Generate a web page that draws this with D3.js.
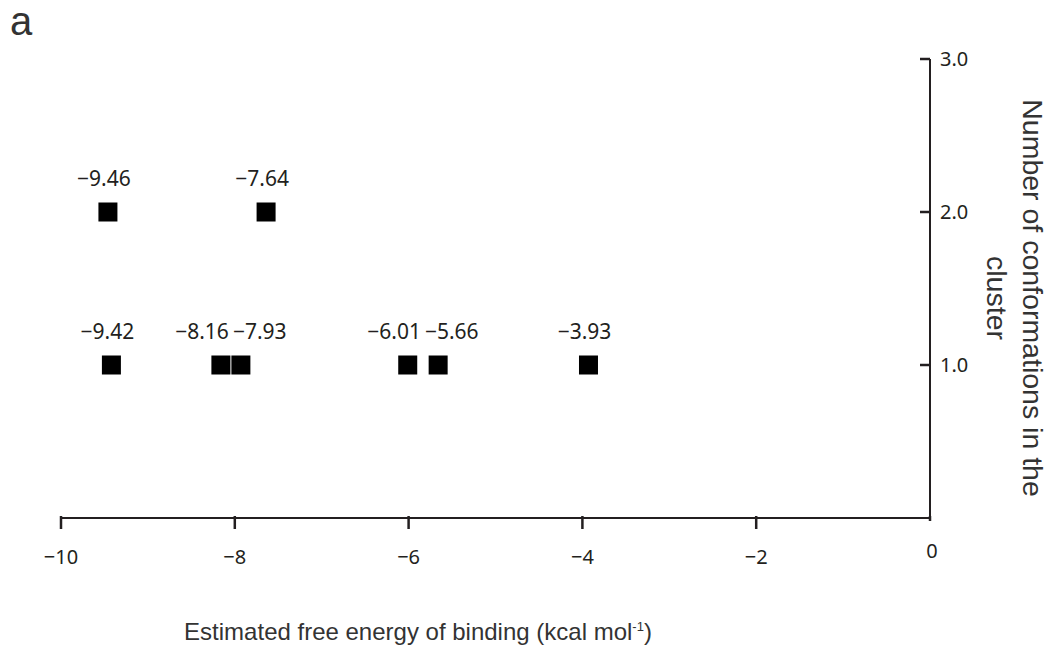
<!DOCTYPE html>
<html>
<head>
  <meta charset="utf-8">
  <title>Free energy of binding vs cluster size</title>
  <style>
    body { margin: 0; background: #fff; }
    text { fill: #231f20; }
  </style>
</head>
<body>
  <script src="https://d3js.org/d3.v7.min.js"></script>
  <script>
    const width = 1049;
    const height = 646;

    // binding energies (kcal/mol) and cluster sizes
    const energies = [-9.46, -7.64, -9.42, -8.16, -7.93, -6.01, -5.66, -3.93];
    const counts = [2, 2, 1, 1, 1, 1, 1, 1];
    const labels = ['\u22129.46', '\u22127.64', '\u22129.42', '\u22128.16', '\u22127.93', '\u22126.01', '\u22125.66', '\u22123.93'];

    const xTicks = [-10, -8, -6, -4, -2, 0];
    const xTickLabels = ['\u221210', '\u22128', '\u22126', '\u22124', '\u22122', '0'];
    const yTicks = [1, 2, 3];
    const yTickLabels = ['1.0', '2.0', '3.0'];

    const points = energies.map((e, i) => ({ e, n: counts[i], label: labels[i] }));

    const x = d3.scaleLinear().domain([-10, 0]).range([61, 930]);
    const y = d3.scaleLinear().domain([0, 3]).range([518, 59]);

    const svg = d3.select('body')
      .append('svg')
      .attr('width', width)
      .attr('height', height);

    const axisColor = '#231f20';
    const tickFont = '"Noto Sans", "Open Sans", sans-serif';

    // x axis
    svg.append('line')
      .attr('x1', x(-10)).attr('x2', x(0))
      .attr('y1', y(0)).attr('y2', y(0))
      .attr('stroke', axisColor).attr('stroke-width', 2);

    svg.append('g')
      .selectAll('line')
      .data(xTicks)
      .join('line')
      .attr('x1', d => x(d)).attr('x2', d => x(d))
      .attr('y1', y(0) - 2).attr('y2', d => d === 0 ? y(0) + 3 : y(0) + 11)
      .attr('stroke', axisColor).attr('stroke-width', 2.5);

    svg.append('g')
      .selectAll('text')
      .data(xTicks)
      .join('text')
      .attr('x', d => x(d) + (d === 0 ? 2 : 0))
      .attr('y', d => d === 0 ? 558 : 564)
      .attr('text-anchor', 'middle')
      .style('font-family', tickFont)
      .style('font-size', '20px')
      .text((d, i) => xTickLabels[i]);

    // y axis on the right, at x = 0
    svg.append('line')
      .attr('x1', x(0)).attr('x2', x(0))
      .attr('y1', y(0) + 3).attr('y2', y(3))
      .attr('stroke', axisColor).attr('stroke-width', 2);

    svg.append('g')
      .selectAll('line')
      .data(yTicks)
      .join('line')
      .attr('x1', x(0) - 10).attr('x2', x(0))
      .attr('y1', d => y(d)).attr('y2', d => y(d))
      .attr('stroke', axisColor).attr('stroke-width', 2.5);

    svg.append('g')
      .selectAll('text')
      .data(yTicks)
      .join('text')
      .attr('x', x(0) + 10)
      .attr('y', d => y(d))
      .attr('dy', '0.35em')
      .style('font-family', tickFont)
      .style('font-size', '20px')
      .text((d, i) => yTickLabels[i]);

    // markers
    const side = 19;
    svg.append('g')
      .selectAll('rect')
      .data(points)
      .join('rect')
      .attr('x', d => x(d.e) - side / 2)
      .attr('y', d => y(d.n) - side / 2)
      .attr('width', side)
      .attr('height', side)
      .attr('fill', '#000');

    // value labels; close neighbours on the same row are pushed apart
    const neighbour = d => points.find(p => p !== d && p.n === d.n && Math.abs(p.e - d.e) < 0.5);
    svg.append('g')
      .selectAll('text')
      .data(points)
      .join('text')
      .each(function (d) {
        const nb = neighbour(d);
        const t = d3.select(this);
        if (nb) {
          const mid = (x(d.e) + x(nb.e)) / 2;
          if (d.e < nb.e) t.attr('x', mid - 2).attr('text-anchor', 'end');
          else t.attr('x', mid + 2).attr('text-anchor', 'start');
        } else {
          t.attr('x', x(d.e) - 4).attr('text-anchor', 'middle');
        }
      })
      .attr('y', d => y(d.n) - 26)
      .style('font-family', tickFont)
      .style('font-size', '21px')
      .text(d => d.label);

    // axis titles
    const title = svg.append('text')
      .attr('x', 418)
      .attr('y', 640)
      .attr('text-anchor', 'middle')
      .style('font-family', '"Liberation Sans", Arial, sans-serif')
      .style('font-size', '24px')
      .style('fill', '#333');
    title.append('tspan').text('Estimated free energy of binding (kcal mol');
    title.append('tspan').attr('dy', -9).style('font-size', '13px').text('-1');
    title.append('tspan').attr('dy', 9).text(')');

    const yTitle = svg.append('text')
      .attr('transform', `translate(1015, 298) rotate(90)`)
      .attr('text-anchor', 'middle')
      .style('font-family', '"Liberation Sans", Arial, sans-serif')
      .style('font-size', '28.5px')
      .style('fill', '#333');
    yTitle.append('tspan').attr('x', 0).attr('y', -8).text('Number of conformations in the');
    yTitle.append('tspan').attr('x', 0).attr('y', 28).text('cluster');

    // panel letter
    svg.append('text')
      .attr('x', 10)
      .attr('y', 35)
      .style('font-family', '"Liberation Sans", Arial, sans-serif')
      .style('font-size', '40px')
      .style('fill', '#333')
      .text('a');
  </script>
</body>
</html>
